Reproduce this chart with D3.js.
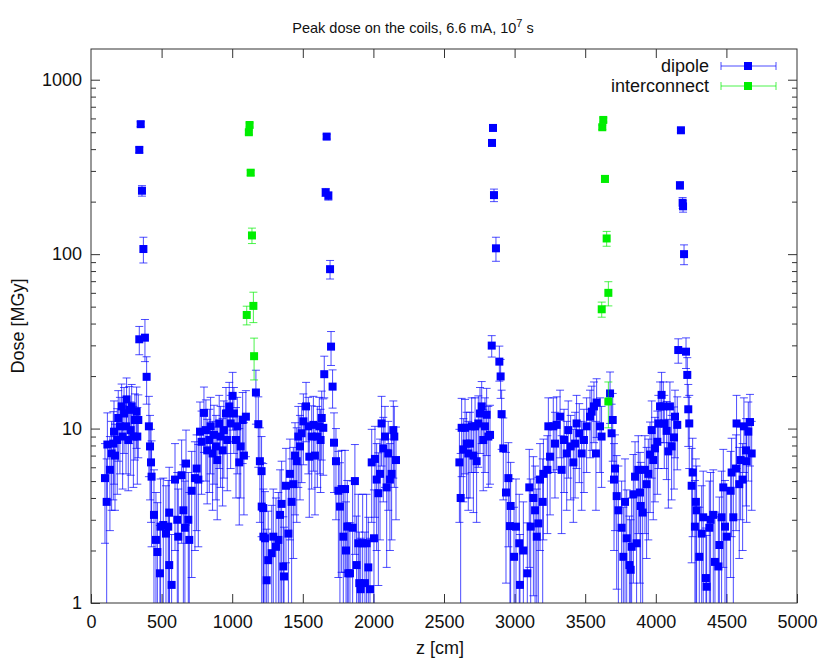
<!DOCTYPE html>
<html>
<head>
<meta charset="utf-8">
<script src="https://cdn.jsdelivr.net/npm/d3@7"></script>
<style>
  body { margin: 0; background: #fff; }
  svg { font-family: "Liberation Sans", Arial, sans-serif; }
  .tick text { font-size: 18px; fill: #111; }
  .tick line { stroke: #333; }
</style>
</head>
<body>
<div id="chart"></div>
<script>
// tick values
var xTicks = [0, 500, 1000, 1500, 2000, 2500, 3000, 3500, 4000, 4500, 5000];
var yTicks = [1, 10, 100, 1000];

// dipole: z [cm], dose [MGy], error [MGy]
var dipoleZ = [
  99, 111, 116, 134, 146, 158, 163, 170, 186, 193, 205, 217, 224, 234, 248, 252, 264, 271, 281, 288,
  300, 311, 323, 328, 335, 342, 342, 352, 361, 371, 382, 394, 410, 418, 425, 429, 446, 460, 470, 488,
  493, 512, 531, 547, 554, 554, 571, 595, 611, 618, 642, 654, 665, 673, 689, 696, 713, 736, 748, 760,
  772, 783, 800, 814, 823, 838, 847, 861, 871, 885, 894, 908, 918, 932, 941, 956, 965, 979, 989, 1003,
  1012, 1027, 1036, 1050, 1060, 1074, 1083, 1097, 1168, 1185, 1196, 1208, 1209, 1220, 1221, 1232, 1244, 1255, 1280, 1291,
  1310, 1327, 1339, 1350, 1362, 1367, 1381, 1398, 1409, 1421, 1433, 1445, 1457, 1468, 1480, 1492, 1504, 1523, 1539, 1546,
  1563, 1575, 1586, 1603, 1617, 1626, 1634, 1645, 1652, 1662, 1669, 1681, 1693, 1700, 1711, 1721, 1735, 1752, 1763, 1775,
  1787, 1799, 1806, 1815, 1822, 1834, 1853, 1869, 1881, 1893, 1900, 1910, 1924, 1940, 1952, 1964, 1976, 1988, 2004, 2011,
  2023, 2035, 2047, 2058, 2070, 2082, 2094, 2105, 2117, 2129, 2141, 2148, 2160,
  2609, 2618, 2625, 2637, 2649, 2660, 2672, 2684, 2696, 2708, 2720, 2731, 2743, 2755, 2767, 2778, 2790, 2802, 2814, 2826,
  2838, 2840, 2847, 2854, 2868, 2892, 2901, 2908, 2920, 2939, 2956, 2967, 2972, 2996, 3010, 3033, 3038, 3062, 3090, 3104,
  3114, 3133, 3145, 3157, 3168, 3180, 3199, 3204, 3232, 3239, 3251, 3274, 3286, 3298, 3322, 3333, 3350, 3369, 3380, 3397,
  3416, 3428, 3439, 3458, 3475, 3491, 3510, 3534, 3546, 3562, 3576, 3581, 3605, 3616, 3676, 3687, 3695, 3704, 3711, 3723,
  3735, 3758, 3770, 3782, 3794, 3813, 3822, 3829, 3841, 3853, 3864, 3876, 3888, 3893, 3907, 3923, 3935, 3947, 3959, 3971,
  3982, 3994, 4011, 4018, 4030, 4041, 4053, 4060, 4077, 4089, 4100, 4112, 4129, 4136, 4152, 4159, 4171, 4178, 4190, 4193,
  4200, 4214, 4223, 4230, 4237, 4254, 4261, 4277, 4284, 4289, 4308, 4325, 4336, 4355, 4360, 4379, 4388, 4407, 4419, 4443,
  4450, 4466, 4478, 4490, 4502, 4530, 4537, 4549, 4568, 4572, 4591, 4601, 4615, 4624, 4639, 4643, 4655, 4667, 4679
];
var dipoleDose = [
  5.2, 3.8, 8.1, 5.8, 7.2, 8.2, 9.6, 7.0, 8.6, 11.5, 10.3, 13.4, 9.0, 12.2, 10.3, 14.7, 8.6, 12.8, 9.8, 13.4,
  9.0, 11.2, 12.5, 9.0, 11.2, 32.5, 396, 556, 231, 107, 33.2, 19.8, 10.3, 7.9, 6.4, 5.3, 3.2, 2.3, 1.96, 1.48,
  2.74, 2.8, 2.5, 2.74, 3.3, 1.65, 1.27, 5.1, 3.0, 2.4, 5.4, 3.4, 2.7, 6.3, 3.0, 2.3, 4.4, 5.2, 5.9, 5.1,
  9.6, 8.4, 12.3, 9.8, 7.5, 8.6, 10.3, 7.2, 9.2, 7.9, 6.6, 10.7, 9.0, 7.5, 9.8, 12.2, 8.6, 13.4, 10.7, 15.4,
  12.2, 8.6, 10.3, 6.4, 7.9, 11.2, 7.0, 11.7, 16.1, 10.6, 6.5, 5.7, 3.57, 3.5, 2.4, 2.35, 1.35, 1.76, 1.93, 2.4,
  2.1, 2.3, 3.2, 3.7, 1.62, 1.42, 4.7, 2.5, 5.5, 3.8, 4.8, 7.0, 6.5, 9.0, 7.9, 9.4, 11.0, 13.4, 10.3, 6.9,
  9.0, 10.5, 7.0, 9.0, 10.3, 8.6, 11.5, 10.1, 20.5, 226, 472, 216, 82, 29.5, 17.4, 8.3, 6.5, 4.4, 3.57, 4.5,
  2.4, 4.5, 2.0, 2.74, 1.48, 1.48, 2.7, 5.0, 1.65, 2.2, 1.3, 1.2, 2.2, 1.3, 2.2, 1.6, 1.2, 6.4, 2.35, 6.7,
  5.1, 4.26, 5.5, 10.7, 7.7, 9.0, 4.6, 7.2, 5.1, 5.5, 9.8, 9.0, 6.6,
  6.4, 4.0, 10.1, 7.6, 10.1, 8.2, 7.2, 8.2, 10.3, 7.0, 10.3, 6.5, 10.7, 12.2, 13.4, 8.6, 10.3, 12.0, 9.0, 9.2,
  29.9, 434, 529, 218, 108, 24.2, 19.9, 12.1, 7.7, 4.3, 5.2, 2.76, 3.6, 1.84, 2.74, 2.2, 1.27, 2.0, 1.48, 4.6,
  2.74, 4.0, 3.4, 2.4, 2.86, 5.1, 3.8, 5.5, 5.8, 10.3, 6.9, 10.3, 8.2, 10.5, 11.7, 5.8, 8.6, 7.2, 9.8, 7.9,
  6.4, 8.2, 10.7, 9.4, 7.2, 8.6, 10.3, 11.7, 12.5, 13.4, 7.2, 14.1, 10.3, 9.0, 15.9, 9.4, 11.2, 5.1, 5.9, 4.1,
  3.4, 2.7, 1.84, 3.8, 2.35, 1.65, 1.55, 2.1, 4.2, 5.3, 2.2, 5.8, 4.3, 3.6, 3.3, 5.8, 4.8, 5.5, 7.1, 9.8,
  6.6, 7.7, 8.4, 10.7, 13.4, 15.6, 13.4, 10.7, 9.7, 7.4, 13.4, 7.9, 8.9, 11.7, 10.5, 28.2, 248, 513, 197, 188,
  100, 27.6, 20.3, 12.9, 10.7, 4.7, 5.6, 2.74, 3.8, 3.4, 1.84, 2.5, 3.1, 1.39, 1.24, 2.7, 3.0, 3.2, 1.72, 1.62,
  2.15, 3.1, 4.6, 2.74, 2.4, 4.4, 5.6, 3.1, 5.9, 10.7, 4.8, 6.6, 5.1, 10.3, 7.5, 6.5, 9.6, 10.9, 7.2
];
var dipoleErr = [
  3.0, 2.9, 4.2, 3.2, 3.8, 4.3, 4.8, 3.6, 4.4, 5.0, 4.8, 4.6, 4.5, 5.0, 4.8, 4.8, 4.2, 4.6, 4.4, 4.5,
  4.4, 4.6, 4.8, 4.2, 4.4, 6.0, 15, 18, 16, 18, 9.0, 6.0, 5.0, 4.0, 3.5, 3.2, 2.6, 2.0, 1.8, 1.3,
  2.4, 2.4, 2.2, 2.3, 2.7, 1.5, 1.2, 3.1, 2.6, 2.1, 3.2, 2.8, 2.3, 3.5, 2.6, 2.0, 3.0, 3.2, 3.3, 3.0,
  4.6, 4.2, 5.0, 4.8, 3.8, 4.3, 4.8, 3.8, 4.4, 4.0, 3.6, 4.8, 4.4, 3.9, 4.6, 5.0, 4.2, 5.0, 4.8, 5.6,
  5.0, 4.6, 4.8, 3.6, 3.9, 4.9, 3.8, 4.8, 5.5, 4.6, 3.6, 3.3, 2.8, 2.8, 2.1, 2.0, 1.3, 1.6, 1.7, 2.1,
  1.9, 2.0, 2.6, 2.8, 1.5, 1.3, 3.0, 2.2, 3.2, 2.9, 3.0, 3.8, 3.6, 4.4, 4.0, 4.5, 4.8, 5.0, 4.8, 3.8,
  4.5, 4.8, 3.8, 4.4, 4.8, 4.3, 4.9, 4.7, 5.5, 12, 15, 12, 10, 6.5, 4.3, 4.0, 3.5, 3.0, 2.8, 3.0,
  2.1, 3.0, 1.8, 2.3, 1.4, 1.4, 2.3, 3.1, 1.5, 2.0, 1.25, 1.15, 2.0, 1.25, 2.0, 1.5, 1.15, 3.5, 2.1, 3.6,
  3.1, 3.0, 3.2, 4.6, 3.9, 4.4, 3.0, 3.8, 3.1, 3.2, 4.6, 4.4, 3.6,
  3.5, 3.2, 4.8, 3.8, 4.6, 4.2, 3.8, 4.2, 4.7, 3.7, 4.7, 3.6, 4.7, 5.0, 5.2, 4.2, 4.7, 5.0, 4.4, 4.4,
  4.2, 14, 15, 18, 17, 5.5, 5.0, 4.5, 3.8, 3.0, 3.1, 2.4, 2.8, 1.7, 2.4, 2.0, 1.2, 1.8, 1.4, 3.0,
  2.4, 2.9, 2.7, 2.1, 2.4, 3.1, 2.9, 3.2, 3.3, 4.7, 3.7, 4.7, 4.2, 4.7, 4.9, 3.3, 4.3, 3.8, 4.6, 4.0,
  3.5, 4.2, 4.8, 4.5, 3.8, 4.3, 4.7, 4.9, 5.0, 5.1, 3.8, 5.2, 4.7, 4.4, 5.2, 4.4, 4.7, 3.1, 3.3, 2.9,
  2.7, 2.3, 1.7, 2.9, 2.1, 1.5, 1.45, 1.9, 2.9, 3.1, 2.0, 3.3, 3.0, 2.8, 2.7, 3.3, 3.0, 3.2, 3.8, 4.6,
  3.6, 3.9, 4.2, 4.8, 5.1, 5.4, 5.1, 4.8, 4.6, 3.9, 5.1, 4.0, 4.4, 4.9, 4.7, 4.5, 12, 15, 14, 14,
  13, 5.5, 5.2, 5.0, 4.8, 3.0, 3.2, 2.3, 2.9, 2.7, 1.7, 2.2, 2.6, 1.3, 1.2, 2.3, 2.6, 2.6, 1.6, 1.5,
  1.9, 2.6, 3.0, 2.3, 2.1, 3.0, 3.2, 2.6, 3.3, 4.8, 3.0, 3.6, 3.1, 4.7, 3.9, 3.6, 4.6, 4.8, 3.8
];

// interconnect: z [cm], dose [MGy], error [MGy]
var interZ = [1103, 1118, 1123, 1131, 1140, 1150, 1155, 3617, 3621, 3628, 3640, 3652, 3664, 3664];
var interDose = [44.8, 500, 550, 293, 128, 50.5, 26, 48.3, 534, 588, 270, 123, 60, 14.3];
var interErr = [5.5, 14, 15, 10, 13, 10, 7, 4.8, 15, 16, 12, 12, 9.5, 4.2];

var W = 825, H = 665;
var margin = {top: 49, right: 28, bottom: 62, left: 91};
var plotW = W - margin.left - margin.right;
var plotH = H - margin.top - margin.bottom;

var svg = d3.select("#chart").append("svg")
    .attr("width", W)
    .attr("height", H);

var xScale = d3.scaleLinear().domain([0, 5000]).range([margin.left, margin.left + plotW]);
var yScale = d3.scaleLog().domain([1, 1500]).range([margin.top + plotH, margin.top]);

// minor log ticks 2..9 in each decade
var yMinor = [];
[1, 10, 100, 1000].forEach(function (dec) {
    for (var m = 2; m <= 9; m++) {
        if (dec * m <= 1500) yMinor.push(dec * m);
    }
});

// axes - gnuplot style, ticks pointing inward and mirrored
var xAxisB = d3.axisBottom(xScale).tickValues(xTicks).tickSize(-9).tickSizeOuter(0).tickPadding(12).tickFormat(d3.format("d"));
var xAxisT = d3.axisTop(xScale).tickValues(xTicks.slice(1, -1)).tickSize(-9).tickSizeOuter(0).tickFormat("");
var yAxisL = d3.axisLeft(yScale).tickValues(yTicks).tickSize(-9).tickSizeOuter(0).tickPadding(9).tickFormat(d3.format("d"));
var yAxisR = d3.axisRight(yScale).tickValues(yTicks.slice(1)).tickSize(-9).tickSizeOuter(0).tickFormat("");
var yMinorL = d3.axisLeft(yScale).tickValues(yMinor).tickSize(-5).tickSizeOuter(0).tickFormat("");
var yMinorR = d3.axisRight(yScale).tickValues(yMinor).tickSize(-5).tickSizeOuter(0).tickFormat("");

svg.append("g").attr("transform", "translate(0," + (margin.top + plotH) + ")").call(xAxisB);
svg.append("g").attr("transform", "translate(0," + margin.top + ")").call(xAxisT);
svg.append("g").attr("transform", "translate(" + margin.left + ",0)").call(yAxisL);
svg.append("g").attr("transform", "translate(" + margin.left + ",0)").call(yMinorL);
svg.append("g").attr("transform", "translate(" + (margin.left + plotW) + ",0)").call(yAxisR);
svg.append("g").attr("transform", "translate(" + (margin.left + plotW) + ",0)").call(yMinorR);
svg.selectAll(".domain").remove();

// clip for error bars running off the bottom
svg.append("clipPath").attr("id", "plotClip")
    .append("rect")
    .attr("x", margin.left).attr("y", margin.top)
    .attr("width", plotW).attr("height", plotH);

var plot = svg.append("g").attr("clip-path", "url(#plotClip)");

function drawSeries(zs, doses, errs, color) {
    var pts = zs.map(function (z, i) { return {z: z, d: doses[i], e: errs[i]}; });
    var bars = plot.append("g")
        .attr("stroke", color)
        .attr("stroke-opacity", 0.7)
        .attr("stroke-width", 1);
    pts.forEach(function (p) {
        var cx = xScale(p.z);
        var lo = p.d - p.e;
        var yLo = lo > 0.01 ? yScale(lo) : margin.top + plotH + 20;
        var yHi = yScale(p.d + p.e);
        bars.append("line").attr("x1", cx).attr("x2", cx).attr("y1", yLo).attr("y2", yHi);
        bars.append("line").attr("x1", cx - 4).attr("x2", cx + 4).attr("y1", yHi).attr("y2", yHi);
        if (lo > 0.01) {
            bars.append("line").attr("x1", cx - 4).attr("x2", cx + 4).attr("y1", yLo).attr("y2", yLo);
        }
    });
    plot.append("g").selectAll("rect")
        .data(pts)
        .enter().append("rect")
        .attr("x", function (p) { return xScale(p.z) - 4; })
        .attr("y", function (p) { return yScale(p.d) - 4; })
        .attr("width", 8)
        .attr("height", 8)
        .attr("fill", color);
}

drawSeries(dipoleZ, dipoleDose, dipoleErr, "#0000ff");
drawSeries(interZ, interDose, interErr, "#00ee00");

// frame
svg.append("rect")
    .attr("x", margin.left).attr("y", margin.top)
    .attr("width", plotW).attr("height", plotH)
    .attr("fill", "none")
    .attr("stroke", "#333")
    .attr("stroke-width", 1);

// title
var title = svg.append("text")
    .attr("x", 413).attr("y", 33)
    .attr("text-anchor", "middle")
    .style("font-size", "14.5px")
    .attr("fill", "#111");
title.append("tspan").text("Peak dose on the coils, 6.6 mA, 10");
title.append("tspan").attr("dy", -6).style("font-size", "11px").text("7");
title.append("tspan").attr("dy", 6).text(" s");

// axis labels
svg.append("text")
    .attr("x", 440).attr("y", 654)
    .attr("text-anchor", "middle")
    .style("font-size", "18px")
    .attr("fill", "#111")
    .text("z [cm]");

svg.append("text")
    .attr("transform", "translate(24," + (margin.top + plotH / 2) + ") rotate(-90)")
    .attr("text-anchor", "middle")
    .style("font-size", "18px")
    .attr("fill", "#111")
    .text("Dose [MGy]");

// legend
var legendItems = [
    {name: "dipole", color: "#0000ff"},
    {name: "interconnect", color: "#00ee00"}
];
legendItems.forEach(function (item, i) {
    var ly = 66 + i * 20;
    var g = svg.append("g");
    g.append("text")
        .attr("x", 709).attr("y", ly + 6)
        .attr("text-anchor", "end")
        .style("font-size", "18px")
        .attr("fill", "#111")
        .text(item.name);
    var lg = g.append("g").attr("stroke", item.color).attr("stroke-opacity", 0.7);
    lg.append("line").attr("x1", 721).attr("x2", 776).attr("y1", ly).attr("y2", ly);
    lg.append("line").attr("x1", 721).attr("x2", 721).attr("y1", ly - 4).attr("y2", ly + 4);
    lg.append("line").attr("x1", 776).attr("x2", 776).attr("y1", ly - 4).attr("y2", ly + 4);
    g.append("rect").attr("x", 744).attr("y", ly - 4).attr("width", 8).attr("height", 8).attr("fill", item.color);
});
</script>
</body>
</html>
